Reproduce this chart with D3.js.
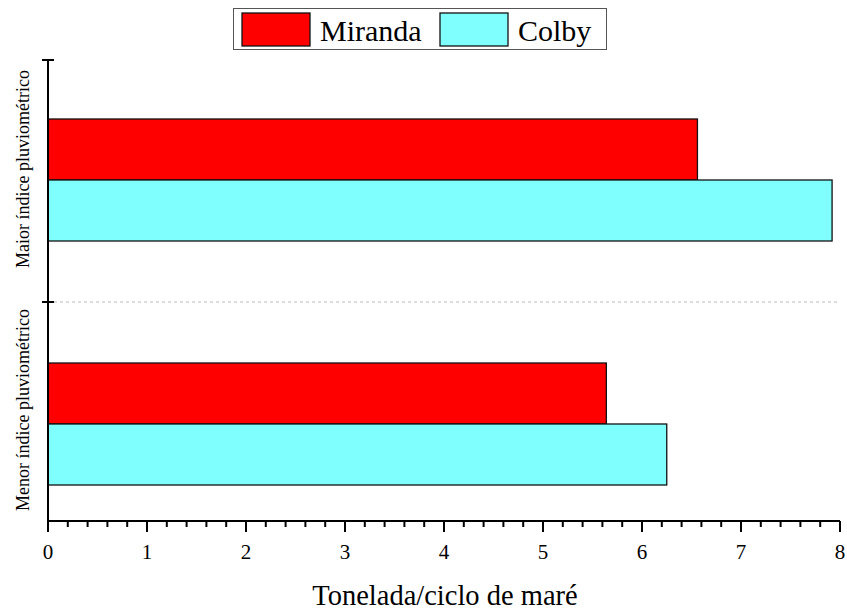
<!DOCTYPE html>
<html><head><meta charset="utf-8">
<script src="https://cdn.jsdelivr.net/npm/d3@7"></script>
<style>body{margin:0;background:#fff}svg{display:block}text{font-family:"Liberation Serif","Times New Roman",serif;fill:#000}</style>
</head><body>
<script>
const categories = ["Maior índice pluviométrico", "Menor índice pluviométrico"];
const seriesNames = ["Miranda", "Colby"];
const miranda = [6.56, 5.64];
const colby = [7.92, 6.25];
const xTicks = [0, 1, 2, 3, 4, 5, 6, 7, 8];
const colors = ["#ff0000", "#80ffff"];

const W = 847, H = 610;
const svg = d3.select("body").append("svg").attr("width", W).attr("height", H);
const x = d3.scaleLinear().domain([0, 8]).range([48, 840]);
const y = d3.scaleBand().domain(categories).range([58, 546]);
const axisY = 521, topY = 60;
const series = [miranda, colby];
const bh = y.bandwidth() * 0.25;

// dashed separator
svg.append("line").attr("x1", x(0)).attr("x2", x(8)).attr("y1", y(categories[1])).attr("y2", y(categories[1]))
  .attr("stroke", "#bbb").attr("stroke-dasharray", "3,3").attr("stroke-width", 1);

// bars
series.forEach((s, i) => {
  svg.append("g").selectAll("rect").data(s).join("rect")
    .attr("x", x(0))
    .attr("y", (d, j) => y(categories[j]) + y.bandwidth() / 2 - bh + i * bh)
    .attr("width", d => x(d) - x(0))
    .attr("height", bh)
    .attr("fill", colors[i]).attr("stroke", "#111").attr("stroke-width", 1.3);
});

// x axis
const xa = svg.append("g").attr("transform", `translate(0,${axisY})`);
xa.append("line").attr("x1", x(0)).attr("x2", x(8)).attr("stroke", "#000").attr("stroke-width", 2);
const minor = d3.range(0, 8.001, 0.2).map(v => +v.toFixed(1));
xa.selectAll("line.m").data(minor).join("line").attr("class", "m")
  .attr("x1", d => x(d)).attr("x2", d => x(d)).attr("y1", 0)
  .attr("y2", d => Number.isInteger(d) ? 11 : 6)
  .attr("stroke", "#000").attr("stroke-width", 2);
xa.selectAll("text").data(xTicks).join("text")
  .attr("x", d => x(d)).attr("y", 38).attr("text-anchor", "middle")
  .attr("font-size", 21).text(d => d);

svg.append("text").attr("x", 445).attr("y", 605).attr("text-anchor", "middle")
  .attr("font-size", 28.5).text("Tonelada/ciclo de maré");

// y axis
svg.append("line").attr("x1", x(0)).attr("x2", x(0)).attr("y1", topY).attr("y2", axisY + 1)
  .attr("stroke", "#000").attr("stroke-width", 2);
[topY, y(categories[1])].forEach(v => {
  svg.append("line").attr("x1", x(0) - 6).attr("x2", x(0) + 6).attr("y1", v).attr("y2", v)
    .attr("stroke", "#000").attr("stroke-width", 2);
});
const labCenters = [169, 410];
categories.forEach((c, i) => {
  svg.append("text").attr("transform", `translate(29,${labCenters[i]}) rotate(-90)`)
    .attr("text-anchor", "middle").attr("font-size", 18).text(c);
});

// legend
const lg = svg.append("g");
lg.append("rect").attr("x", 233.5).attr("y", 8.5).attr("width", 373).attr("height", 41)
  .attr("fill", "#fff").attr("stroke", "#555").attr("stroke-width", 1);
const lx = [242, 440];
seriesNames.forEach((n, i) => {
  lg.append("rect").attr("x", lx[i]).attr("y", 13).attr("width", 68).attr("height", 33)
    .attr("fill", colors[i]).attr("stroke", "#111").attr("stroke-width", 1.3);
  lg.append("text").attr("x", lx[i] + 78).attr("y", 41).attr("font-size", 30).text(n);
});
</script>
</body></html>
